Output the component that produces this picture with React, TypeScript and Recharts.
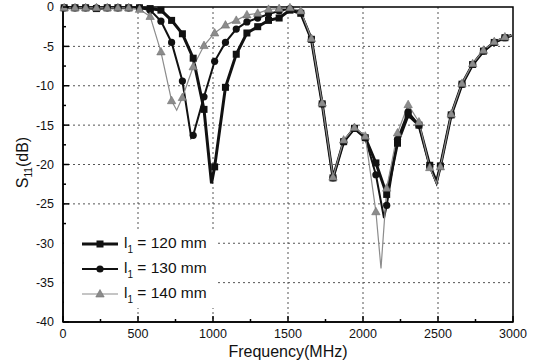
import React from 'react'
import { LineChart, Line, XAxis, YAxis, CartesianGrid, ReferenceArea, Legend } from 'recharts'

// marker frequencies (MHz), shared by the three curves
const freq = [8, 80, 151, 223, 295, 366, 438, 510, 581, 653, 724, 796, 868, 940, 1011, 1083, 1155, 1226, 1298, 1370, 1441,
  1513, 1585, 1656, 1728, 1800, 1871, 1943, 2015, 2086, 2158, 2230, 2301, 2373, 2445, 2516, 2588, 2660, 2731, 2803, 2875, 2946]

// S11 (dB) at each marker
const s120 = [-0.1, -0.1, -0.1, -0.2, -0.1, -0.1, -0.1, -0.1, -0.2, -0.4, -1.7, -3.4, -6.5, -13.0, -20.3, -10.2, -6.0, -3.3, -2.5, -1.7, -1.4,
  -0.4, -0.8, -4.1, -12.3, -21.7, -17.1, -15.4, -16.6, -19.8, -23.8, -17.3, -13.7, -15.0, -20.1, -20.2, -13.7, -9.8, -7.3, -5.6, -4.5, -3.9]
const s130 = [-0.1, -0.1, -0.1, -0.1, -0.1, -0.1, -0.1, -0.1, -0.4, -1.8, -4.5, -9.4, -16.3, -11.4, -6.9, -4.5, -2.8, -1.9, -1.4, -0.9, -0.5,
  -0.2, -0.7, -4.1, -12.3, -21.7, -17.1, -15.4, -16.6, -21.3, -25.2, -16.8, -13.3, -15.0, -20.2, -20.2, -13.7, -9.8, -7.3, -5.6, -4.5, -3.9]
const s140 = [-0.1, -0.1, -0.1, -0.1, -0.1, -0.1, -0.1, -0.3, -1.2, -5.7, -11.9, -11.5, -7.6, -4.9, -3.3, -2.3, -1.7, -1.0, -0.8, -0.3, -0.2,
  -0.1, -0.5, -4.0, -12.2, -21.6, -16.9, -15.3, -16.4, -26.0, -23.0, -16.0, -12.4, -14.6, -20.4, -20.3, -13.6, -9.7, -7.2, -5.5, -4.4, -3.8]

// points of the measured trace between markers (dips, end of sweep)
const between120 = [[990, -22.4], [2490, -22.2], [2990, -3.6]]
const between130 = [[855, -16.6], [2140, -26.8], [2490, -22.3], [2990, -3.6]]
const between140 = [[758, -13.1], [2120, -33.2], [2490, -22.4], [2990, -3.6]]

const names = ['120 mm', '130 mm', '140 mm']

const xTicks = [0, 250, 500, 750, 1000, 1250, 1500, 1750, 2000, 2250, 2500, 2750, 3000]
const yTicks = [0, -2.5, -5, -7.5, -10, -12.5, -15, -17.5, -20, -22.5, -25, -27.5, -30, -32.5, -35, -37.5, -40]

const FONT = '"Liberation Sans", Arial, sans-serif'

type Pt = { f: number; db: number }

const markersOf = (vals: number[]): Pt[] => freq.map((f, i) => ({ f, db: vals[i] }))
const traceOf = (vals: number[], extra: number[][]): Pt[] =>
  [...markersOf(vals), ...extra.map(([f, db]) => ({ f, db }))].sort((a, b) => a.f - b.f)

const Square = ({ cx, cy }: any) => <rect x={cx - 3.5} y={cy - 3.5} width={7} height={7} fill="#111" />
const Circle = ({ cx, cy }: any) => <circle cx={cx} cy={cy} r={3.6} fill="#111" />
const Triangle = ({ cx, cy }: any) => (
  <path d={`M${cx},${cy - 4.5}L${cx + 4.2},${cy + 3}L${cx - 4.2},${cy + 3}Z`} fill="#8c8c8c" stroke="#6f6f6f" strokeWidth={0.6} />
)

const series = [
  { name: names[0], trace: traceOf(s120, between120), marks: markersOf(s120), color: '#111', width: 3, Dot: Square },
  { name: names[1], trace: traceOf(s130, between130), marks: markersOf(s130), color: '#111', width: 2, Dot: Circle },
  { name: names[2], trace: traceOf(s140, between140), marks: markersOf(s140), color: '#8c8c8c', width: 1.2, Dot: Triangle },
]

const XTick = ({ x, y, payload }: any) => {
  const v = payload.value
  const major = v % 500 === 0
  const ay = y - 7
  return (
    <g>
      <line x1={x} x2={x} y1={ay} y2={ay - (major ? 6 : 3)} stroke="#000" strokeWidth={1.5} />
      {major && (
        <text x={x} y={y} dy="0.71em" textAnchor="middle" fontSize={12.5} fontFamily={FONT} fill="#111">{v}</text>
      )}
    </g>
  )
}

const YTick = ({ x, y, payload }: any) => {
  const v = payload.value
  const major = v % 5 === 0
  const ax = x + 9
  return (
    <g>
      <line x1={ax} x2={ax + (major ? 6 : 3)} y1={y} y2={y} stroke="#000" strokeWidth={1.5} />
      {major && (
        <text x={x} y={y} dy="0.355em" textAnchor="end" fontSize={12.5} fontFamily={FONT} fill="#111">{v}</text>
      )}
    </g>
  )
}

const XTitle = ({ viewBox }: any) => (
  <text x={viewBox.x + viewBox.width / 2} y={viewBox.y + 35} textAnchor="middle" fontSize={16} fontFamily={FONT} fill="#111">
    Frequency(MHz)
  </text>
)

const YTitle = ({ viewBox }: any) => {
  const cx = viewBox.x + 28
  const cy = viewBox.y + viewBox.height / 2 - 2
  return (
    <text x={cx} y={cy} transform={`rotate(-90, ${cx}, ${cy})`} textAnchor="middle" fontSize={16} fontFamily={FONT} fill="#111">
      S<tspan fontSize={10} dy={4}>11</tspan><tspan dy={-4}>(dB)</tspan>
    </text>
  )
}

const LegendBox = () => (
  <div style={{ background: '#fff', width: 152, height: 78, fontFamily: FONT, fontSize: 15.5, color: '#111' }}>
    {series.map(s => (
      <div key={s.name} style={{ display: 'flex', alignItems: 'center', height: 25, paddingTop: 3, boxSizing: 'border-box' }}>
        <svg width={60} height={20} style={{ display: 'block' }}>
          <line x1={18} x2={54} y1={10} y2={10} stroke={s.color} strokeWidth={s.width} />
          <s.Dot cx={36} cy={10} />
        </svg>
        <span style={{ whiteSpace: 'nowrap' }}>
          l<sub style={{ fontSize: 10, verticalAlign: -5 }}>1</sub> = {s.name}
        </span>
      </div>
    ))}
  </div>
)

export default function App() {
  return (
    <div style={{ position: 'absolute', left: 0, top: 0, width: 538, height: 364, background: '#fff' }}>
      <LineChart width={538} height={364} margin={{ top: 7, right: 25, left: 0, bottom: 0 }}>
        <CartesianGrid
          stroke="#555"
          strokeDasharray="2 3"
          horizontalValues={[-5, -10, -15, -20, -25, -30, -35]}
          verticalValues={[500, 1000, 1500, 2000, 2500]}
        />
        <XAxis
          type="number"
          dataKey="f"
          domain={[0, 3000]}
          ticks={xTicks}
          interval={0}
          tickSize={0}
          tickMargin={7}
          tickLine={false}
          tick={<XTick />}
          axisLine={{ stroke: '#000', strokeWidth: 1.5 }}
          height={42}
          label={<XTitle />}
        />
        <YAxis
          type="number"
          dataKey="db"
          domain={[-40, 0]}
          ticks={yTicks}
          interval={0}
          tickSize={0}
          tickMargin={9}
          tickLine={false}
          tick={<YTick />}
          axisLine={{ stroke: '#000', strokeWidth: 1.5 }}
          width={63}
          label={<YTitle />}
        />
        <ReferenceArea x1={0} x2={3000} y1={-40} y2={0} fill="none" stroke="#000" strokeWidth={1.5} />
        {series.map(s => (
          <Line
            key={s.name + '-trace'}
            data={s.trace}
            dataKey="db"
            type="linear"
            stroke={s.color}
            strokeWidth={s.width}
            dot={false}
            activeDot={false}
            legendType="none"
            isAnimationActive={false}
          />
        ))}
        {series.map(s => (
          <Line
            key={s.name + '-marks'}
            data={s.marks}
            dataKey="db"
            stroke="none"
            dot={<s.Dot />}
            activeDot={false}
            legendType="none"
            isAnimationActive={false}
          />
        ))}
        <Legend
          layout="horizontal"
          verticalAlign="middle"
          align="center"
          content={<LegendBox />}
          wrapperStyle={{ left: 64, top: 230, width: 152, height: 78 }}
        />
      </LineChart>
    </div>
  )
}
